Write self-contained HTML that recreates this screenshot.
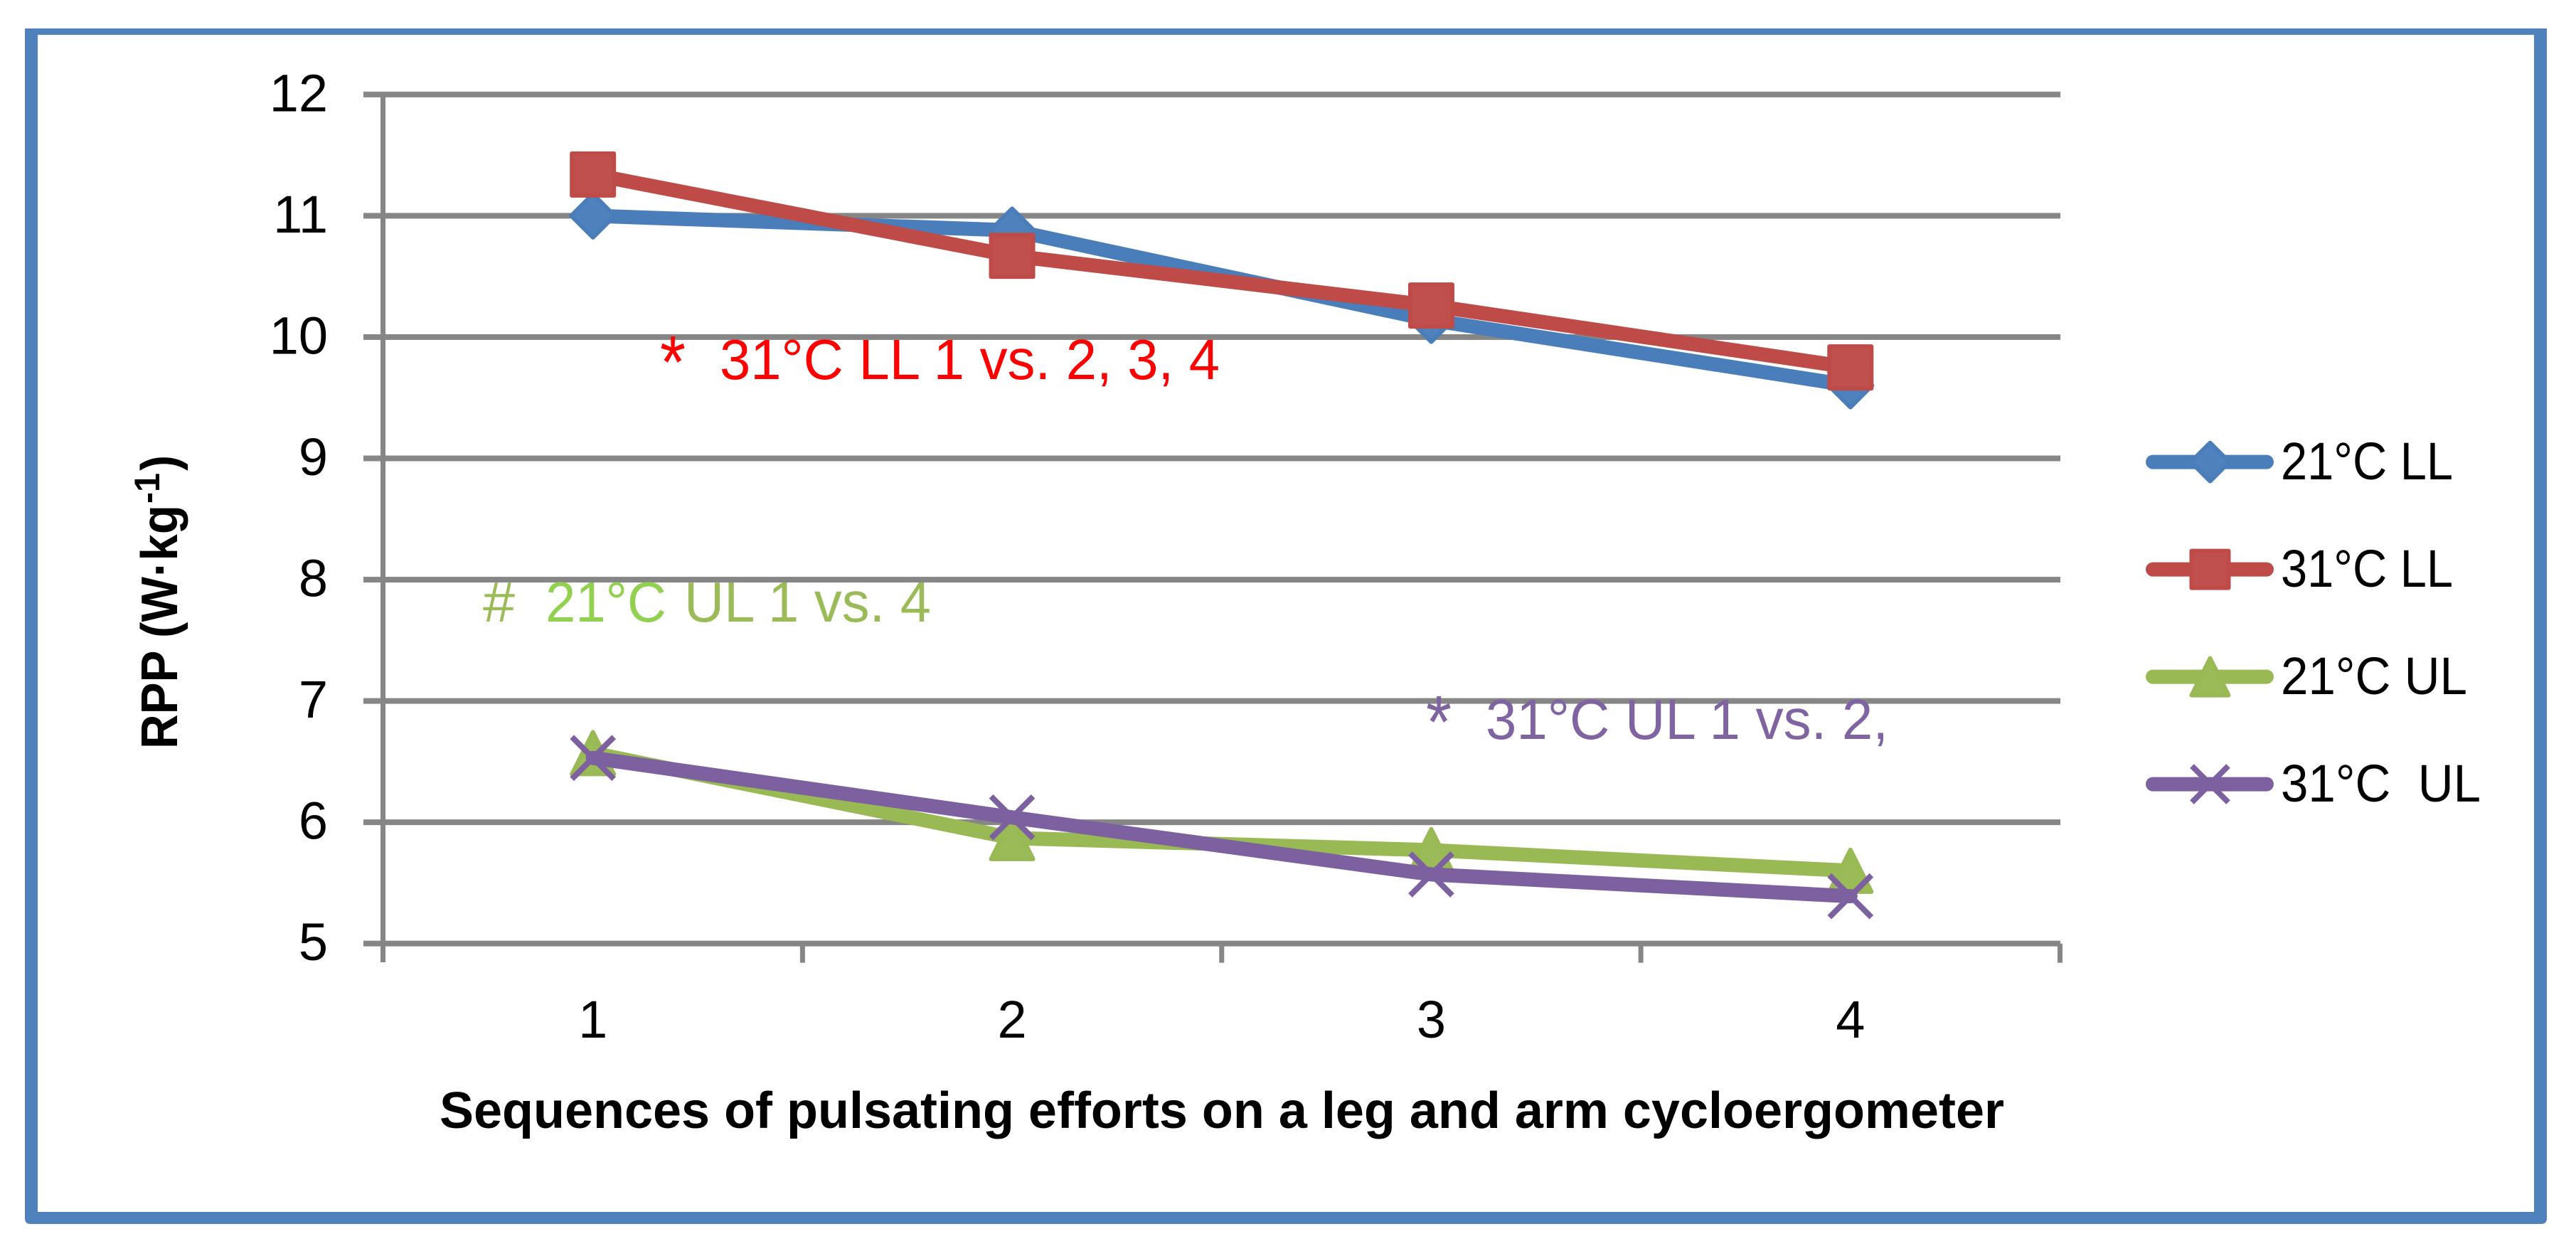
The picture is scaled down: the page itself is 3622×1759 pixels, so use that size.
<!DOCTYPE html>
<html lang="en">
<head>
<meta charset="utf-8">
<title>RPP across sequences of pulsating efforts</title>
<style>
html,body{margin:0;padding:0;background:#fff;}
svg{display:block;}
text{font-family:"Liberation Sans",sans-serif;}
</style>
</head>
<body>
<svg id="chart" xmlns="http://www.w3.org/2000/svg" width="3622" height="1759" viewBox="0 0 3622 1759">
  <rect x="0" y="0" width="3622" height="1759" fill="#ffffff"/>
  <path fill="#4F81BD" fill-rule="evenodd" d="M35 40H3581V1713Q3581 1721 3573 1721H43Q35 1721 35 1713ZM53 49V1704H3563V49Z"/>
  <g id="plot-grid"></g>
  <g id="plot-axes"></g>
  <g id="plot-series"></g>
  <g id="plot-legend"></g>

  <text transform="translate(249,1053) rotate(-90)" font-size="72" font-weight="700" fill="#000" textLength="343" lengthAdjust="spacingAndGlyphs">RPP (W·kg</text>
  <text transform="translate(224,708) rotate(-90)" font-size="50" font-weight="700" fill="#000" textLength="43" lengthAdjust="spacingAndGlyphs">-1</text>
  <text transform="translate(249,662) rotate(-90)" font-size="72" font-weight="700" fill="#000" textLength="22" lengthAdjust="spacingAndGlyphs">)</text>
  <text x="618" y="1586" font-size="72" font-weight="700" fill="#000" textLength="2200" lengthAdjust="spacingAndGlyphs">Sequences of pulsating efforts on a leg and arm cycloergometer</text>

  <text x="928" y="545" font-size="105" fill="#FF0000" textLength="36" lengthAdjust="spacingAndGlyphs">*</text>
  <text x="1012" y="533" font-size="80" fill="#FF0000" textLength="703" lengthAdjust="spacingAndGlyphs">31°C LL 1 vs. 2, 3, 4</text>

  <text x="679" y="874" font-size="80" fill="#9BBB59" textLength="45" lengthAdjust="spacingAndGlyphs">#</text>
  <text x="767" y="874" font-size="80" fill="#92D050" textLength="170" lengthAdjust="spacingAndGlyphs">21°C</text>
  <text x="962" y="874" font-size="80" fill="#9BBB59" textLength="347" lengthAdjust="spacingAndGlyphs">UL 1 vs. 4</text>

  <text x="2005" y="1051" font-size="105" fill="#8064A2" textLength="36" lengthAdjust="spacingAndGlyphs">*</text>
  <text x="2089" y="1039" font-size="80" fill="#8064A2" textLength="566" lengthAdjust="spacingAndGlyphs">31°C UL 1 vs. 2,</text>
</svg>

<script>
var categories = ["1", "2", "3", "4"];
var yTickValues = [5, 6, 7, 8, 9, 10, 11, 12];
var seriesNames = ["21°C LL", "31°C LL", "21°C UL", "31°C\u00A0\u00A0UL"];
var values21LL = [11.0, 10.88, 10.14, 9.6];
var values31LL = [11.34, 10.67, 10.26, 9.75];
var values21UL = [6.57, 5.87, 5.77, 5.6];
var values31UL = [6.53, 6.04, 5.57, 5.39];

var NS = "http://www.w3.org/2000/svg";
var plot = { left: 539, right: 2896.5, y5: 1326.7, unit: 170.55 };
var palette = [
  { line: "#4A7EBB", fill: "#4F81BD", shape: "diamond" },
  { line: "#BE4B48", fill: "#C0504D", shape: "square" },
  { line: "#98B954", fill: "#9BBB59", shape: "triangle" },
  { line: "#7D60A0", fill: "#8064A2", shape: "cross" }
];

function xScale(i) {
  var band = (plot.right - plot.left) / categories.length;
  return plot.left + (i + 0.5) * band;
}
function yScale(v) {
  return plot.y5 - (v - yTickValues[0]) * plot.unit;
}
function make(tag, parent) {
  var el = document.createElementNS(NS, tag);
  parent.appendChild(el);
  return el;
}
function setAll(el, attrs) {
  for (var k in attrs) el.setAttribute(k, attrs[k]);
}
function drawMarker(parent, shape, cx, cy, r, style, name) {
  var el;
  if (shape === "cross") {
    el = make("path", parent);
    setAll(el, {
      d: "M" + (cx - r) + " " + (cy - r) + "L" + (cx + r) + " " + (cy + r) +
         "M" + (cx - r) + " " + (cy + r) + "L" + (cx + r) + " " + (cy - r),
      fill: "none", stroke: style.line, "stroke-width": 8
    });
  } else {
    var pts;
    if (shape === "diamond") {
      pts = [[cx, cy - r - 1], [cx + r + 1, cy], [cx, cy + r + 1], [cx - r - 1, cy]];
    } else if (shape === "square") {
      pts = [[cx - r, cy - r], [cx + r, cy - r], [cx + r, cy + r], [cx - r, cy + r]];
    } else {
      pts = [[cx, cy - r], [cx + r, cy + r], [cx - r, cy + r]];
    }
    el = make("polygon", parent);
    setAll(el, {
      points: pts.map(function (p) { return p.join(","); }).join(" "),
      fill: style.fill, stroke: style.line, "stroke-width": 6, "stroke-linejoin": "round"
    });
  }
  
  
}

/* gridlines and y-axis labels */
var gridGroup = document.getElementById("plot-grid");
var axesGroup = document.getElementById("plot-axes");
yTickValues.forEach(function (v) {
  var y = yScale(v);
  var line = make("rect", gridGroup);
  setAll(line, { x: 511, y: y - 4, width: 2386, height: 8, fill: "#868686" });
  
  
  var label = make("text", axesGroup);
  setAll(label, { x: 461, y: y + 23.5, "font-size": 74, "text-anchor": "end", fill: "#000" });
  label.textContent = String(v);
  
  
});

/* axes */
var yAxis = make("rect", axesGroup);
setAll(yAxis, { x: 535, y: yScale(yTickValues[yTickValues.length - 1]), width: 7, height: 1353 - yScale(yTickValues[yTickValues.length - 1]), fill: "#868686" });



categories.forEach(function (c, i) {
  var tickX = plot.left + (i + 1) * (plot.right - plot.left) / categories.length;
  var tick = make("rect", axesGroup);
  setAll(tick, { x: tickX - 3.5, y: plot.y5, width: 7, height: 27, fill: "#868686" });
  
  
  var label = make("text", axesGroup);
  setAll(label, { x: xScale(i), y: 1459, "font-size": 74, "text-anchor": "middle", fill: "#000" });
  label.textContent = c;
  
  
});

/* series */
var allSeries = [values21LL, values31LL, values21UL, values31UL];
var seriesGroup = document.getElementById("plot-series");
var seriesKeys = ["21c-ll", "31c-ll", "21c-ul", "31c-ul"];
allSeries.forEach(function (vals, s) {
  var style = palette[s];
  var g = make("g", seriesGroup);
  
  
  var path = make("polyline", g);
  setAll(path, {
    points: vals.map(function (v, i) { return xScale(i) + "," + yScale(v); }).join(" "),
    fill: "none", stroke: style.line, "stroke-width": 20,
    "stroke-linecap": "round", "stroke-linejoin": "round"
  });
  
  
  vals.forEach(function (v, i) {
    drawMarker(g, style.shape, xScale(i), yScale(v), 29.5, style, 'point-' + seriesKeys[s] + '-' + categories[i]);
  });
});

/* legend */
var legendGroup = document.getElementById("plot-legend");
var legendRowY = 649.6;
var legendRowStep = 151;
var legendTextLengths = [242, 242, 262, 281];
seriesNames.forEach(function (name, s) {
  var style = palette[s];
  var cy = legendRowY + s * legendRowStep;
  var g = make("g", legendGroup);
  
  
  var key = make("line", g);
  setAll(key, { x1: 3027, x2: 3187, y1: cy, y2: cy, stroke: style.line, "stroke-width": 20, "stroke-linecap": "round" });
  
  
  drawMarker(g, style.shape, 3107.5, cy, style.shape === "cross" ? 25.5 : 26, style, 'legend-key-marker');
  var label = make("text", g);
  setAll(label, { x: 3207, y: cy + 24.5, "font-size": 74, fill: "#000", textLength: legendTextLengths[s], lengthAdjust: "spacingAndGlyphs" });
  label.textContent = name;
  
  
});
</script>
</body>
</html>
